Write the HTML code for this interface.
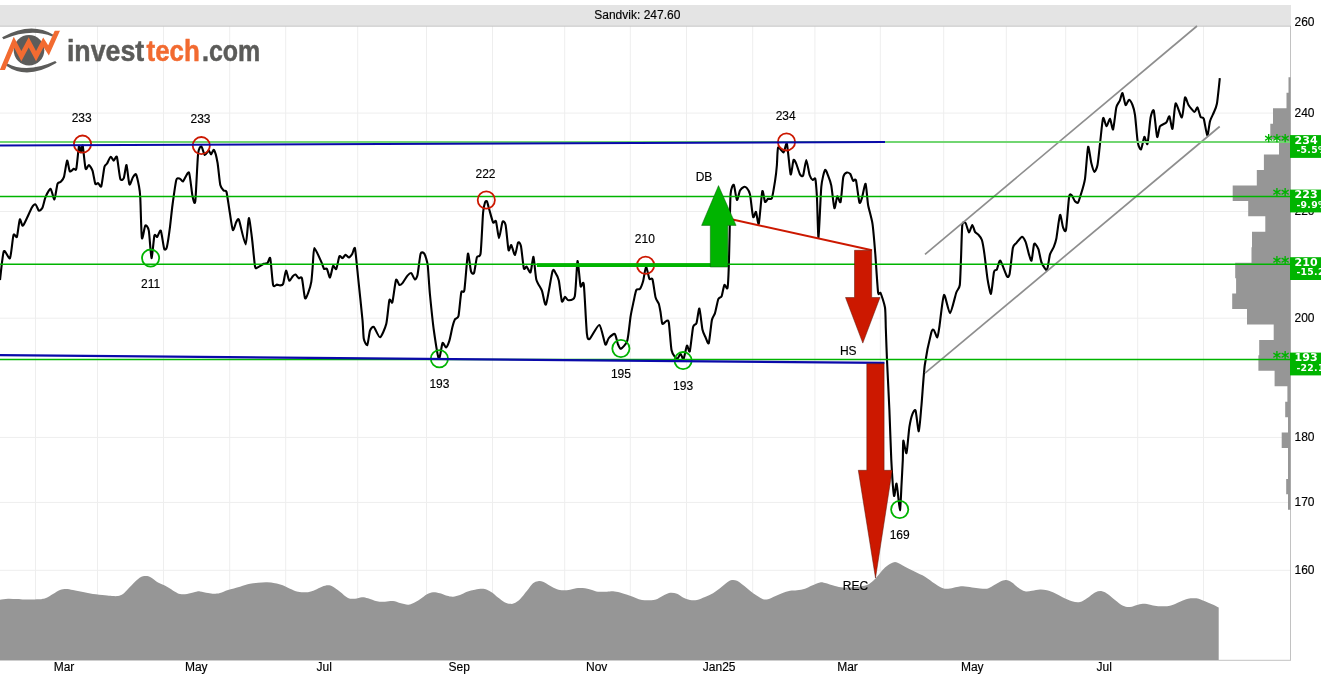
<!DOCTYPE html>
<html><head><meta charset="utf-8"><title>Sandvik: 247.60</title>
<style>html,body{margin:0;padding:0;background:#fff;overflow:hidden}svg{display:block;will-change:transform}</style>
</head><body>
<svg width="1321" height="680" viewBox="0 0 1321 680">
<rect x="0" y="0" width="1321" height="680" fill="#fff"/>
<line x1="35.5" y1="26" x2="35.5" y2="660" stroke="#eeeeee" stroke-width="1"/>
<line x1="97.5" y1="26" x2="97.5" y2="660" stroke="#eeeeee" stroke-width="1"/>
<line x1="163.5" y1="26" x2="163.5" y2="660" stroke="#eeeeee" stroke-width="1"/>
<line x1="229.7" y1="26" x2="229.7" y2="660" stroke="#eeeeee" stroke-width="1"/>
<line x1="285.7" y1="26" x2="285.7" y2="660" stroke="#eeeeee" stroke-width="1"/>
<line x1="357.7" y1="26" x2="357.7" y2="660" stroke="#eeeeee" stroke-width="1"/>
<line x1="426.5" y1="26" x2="426.5" y2="660" stroke="#eeeeee" stroke-width="1"/>
<line x1="492.5" y1="26" x2="492.5" y2="660" stroke="#eeeeee" stroke-width="1"/>
<line x1="564.7" y1="26" x2="564.7" y2="660" stroke="#eeeeee" stroke-width="1"/>
<line x1="630.3" y1="26" x2="630.3" y2="660" stroke="#eeeeee" stroke-width="1"/>
<line x1="686.5" y1="26" x2="686.5" y2="660" stroke="#eeeeee" stroke-width="1"/>
<line x1="752.7" y1="26" x2="752.7" y2="660" stroke="#eeeeee" stroke-width="1"/>
<line x1="814.9" y1="26" x2="814.9" y2="660" stroke="#eeeeee" stroke-width="1"/>
<line x1="880.3" y1="26" x2="880.3" y2="660" stroke="#eeeeee" stroke-width="1"/>
<line x1="943.7" y1="26" x2="943.7" y2="660" stroke="#eeeeee" stroke-width="1"/>
<line x1="1006.3" y1="26" x2="1006.3" y2="660" stroke="#eeeeee" stroke-width="1"/>
<line x1="1065.7" y1="26" x2="1065.7" y2="660" stroke="#eeeeee" stroke-width="1"/>
<line x1="1137.7" y1="26" x2="1137.7" y2="660" stroke="#eeeeee" stroke-width="1"/>
<line x1="1203.5" y1="26" x2="1203.5" y2="660" stroke="#eeeeee" stroke-width="1"/>
<line x1="0" y1="113.1" x2="1290" y2="113.1" stroke="#eeeeee" stroke-width="1"/>
<line x1="0" y1="211.5" x2="1290" y2="211.5" stroke="#eeeeee" stroke-width="1"/>
<line x1="0" y1="318.2" x2="1290" y2="318.2" stroke="#eeeeee" stroke-width="1"/>
<line x1="0" y1="437.4" x2="1290" y2="437.4" stroke="#eeeeee" stroke-width="1"/>
<line x1="0" y1="502.4" x2="1290" y2="502.4" stroke="#eeeeee" stroke-width="1"/>
<line x1="0" y1="570.3" x2="1290" y2="570.3" stroke="#eeeeee" stroke-width="1"/>
<rect x="0" y="5" width="1291" height="21" fill="#e4e4e4"/>
<line x1="0" y1="26.2" x2="1291" y2="26.2" stroke="#c6c6c6" stroke-width="1"/>
<text x="637.3" y="19.2" font-size="12" text-anchor="middle" font-family="Liberation Sans, Arial, sans-serif" fill="#000" stroke="#000" stroke-width="0.15">Sandvik: 247.60</text>
<line x1="1290.5" y1="26" x2="1290.5" y2="660" stroke="#c2c2c2" stroke-width="1"/>
<line x1="0" y1="660.3" x2="1291" y2="660.3" stroke="#c2c2c2" stroke-width="1"/>
<path d="M0,660 L0.0,599.7 C1.3,599.5 5.2,598.8 8.0,598.7 C10.8,598.6 14.2,598.9 17.0,599.0 C19.8,599.1 21.2,599.5 25.0,599.5 C28.8,599.5 36.5,599.5 40.0,599.3 C43.5,599.0 43.8,598.9 46.0,598.0 C48.2,597.1 50.7,595.3 53.0,594.0 C55.3,592.7 57.8,590.8 60.0,590.0 C62.2,589.2 63.8,589.0 66.0,589.0 C68.2,589.0 70.2,589.5 73.0,590.0 C75.8,590.5 79.7,591.3 83.0,592.0 C86.3,592.7 89.3,593.5 93.0,594.0 C96.7,594.5 101.8,595.0 105.0,595.3 C108.2,595.6 109.8,595.9 112.0,596.0 C114.2,596.1 116.2,596.3 118.0,596.0 C119.8,595.7 121.3,595.2 123.0,594.0 C124.7,592.8 126.0,591.0 128.0,589.0 C130.0,587.0 132.8,583.7 135.0,581.7 C137.2,579.7 139.2,578.0 141.0,577.0 C142.8,576.0 144.3,575.9 146.0,576.0 C147.7,576.1 149.0,576.4 151.0,577.5 C153.0,578.6 155.3,581.0 158.0,582.5 C160.7,584.0 164.2,585.2 167.0,586.7 C169.8,588.2 172.8,590.5 175.0,591.7 C177.2,592.9 178.0,593.6 180.0,594.0 C182.0,594.4 184.5,594.3 187.0,594.0 C189.5,593.7 192.8,592.4 195.0,592.0 C197.2,591.6 197.8,591.2 200.0,591.4 C202.2,591.6 205.7,592.6 208.0,593.0 C210.3,593.4 212.0,593.8 214.0,593.8 C216.0,593.8 217.7,593.6 220.0,593.0 C222.3,592.4 224.7,591.0 228.0,590.0 C231.3,589.0 236.3,587.7 240.0,586.7 C243.7,585.7 247.0,584.4 250.0,583.8 C253.0,583.1 255.2,583.0 258.0,582.8 C260.8,582.5 264.2,582.2 267.0,582.3 C269.8,582.4 272.5,582.8 275.0,583.3 C277.5,583.8 279.5,584.1 282.0,585.0 C284.5,585.9 287.3,587.6 290.0,588.7 C292.7,589.8 295.0,591.1 298.0,591.7 C301.0,592.3 305.2,592.5 308.0,592.2 C310.8,591.9 312.7,590.9 315.0,590.0 C317.3,589.1 319.8,587.5 322.0,586.7 C324.2,585.9 326.2,585.3 328.0,585.3 C329.8,585.3 331.0,585.6 333.0,586.7 C335.0,587.8 337.5,589.8 340.0,591.7 C342.5,593.6 345.5,596.8 348.0,598.0 C350.5,599.2 352.7,598.8 355.0,598.7 C357.3,598.6 359.8,597.3 362.0,597.2 C364.2,597.1 365.5,597.6 368.0,598.3 C370.5,599.0 374.2,600.7 377.0,601.3 C379.8,601.9 382.3,601.8 385.0,601.7 C387.7,601.7 390.5,600.8 393.0,601.0 C395.5,601.2 397.5,602.4 400.0,603.0 C402.5,603.6 405.8,604.7 408.0,604.7 C410.2,604.8 411.0,604.2 413.0,603.3 C415.0,602.4 417.7,600.7 420.0,599.2 C422.3,597.7 424.8,595.4 427.0,594.2 C429.2,593.0 430.8,592.4 433.0,592.2 C435.2,592.1 437.7,592.7 440.0,593.3 C442.3,593.9 444.8,595.2 447.0,595.8 C449.2,596.4 450.8,596.8 453.0,596.7 C455.2,596.6 457.7,595.8 460.0,595.0 C462.3,594.2 464.5,592.6 467.0,591.7 C469.5,590.8 472.5,590.2 475.0,589.7 C477.5,589.2 480.0,588.8 482.0,588.8 C484.0,588.8 485.3,589.1 487.0,589.7 C488.7,590.3 490.2,591.2 492.0,592.5 C493.8,593.8 495.8,595.8 498.0,597.5 C500.2,599.2 503.0,601.5 505.0,602.5 C507.0,603.5 508.5,603.7 510.0,603.8 C511.5,603.9 512.3,604.1 514.0,603.3 C515.7,602.5 517.8,601.3 520.0,599.2 C522.2,597.1 524.8,593.4 527.0,590.8 C529.2,588.1 531.2,584.9 533.0,583.3 C534.8,581.7 536.3,581.5 538.0,581.2 C539.7,580.9 541.0,580.9 543.0,581.7 C545.0,582.5 547.7,584.5 550.0,585.8 C552.3,587.0 554.8,588.5 557.0,589.2 C559.2,590.0 560.8,590.2 563.0,590.3 C565.2,590.4 567.5,590.1 570.0,589.7 C572.5,589.3 575.5,588.2 578.0,588.0 C580.5,587.8 582.7,588.0 585.0,588.3 C587.3,588.6 589.8,589.4 592.0,590.0 C594.2,590.6 595.5,591.4 598.0,591.7 C600.5,592.0 604.5,591.8 607.0,591.7 C609.5,591.6 610.8,591.2 613.0,591.3 C615.2,591.4 617.2,591.8 620.0,592.5 C622.8,593.2 626.3,594.5 630.0,595.8 C633.7,597.0 637.8,599.4 642.0,600.0 C646.2,600.6 651.5,600.4 655.0,599.7 C658.5,599.0 660.5,596.9 663.0,595.8 C665.5,594.6 667.7,593.1 670.0,592.8 C672.3,592.5 674.8,593.0 677.0,593.8 C679.2,594.6 680.8,596.5 683.0,597.5 C685.2,598.5 687.7,599.6 690.0,600.0 C692.3,600.4 694.5,600.5 697.0,600.0 C699.5,599.5 702.3,598.1 705.0,597.0 C707.7,595.9 710.5,594.8 713.0,593.3 C715.5,591.8 717.7,590.1 720.0,588.3 C722.3,586.5 725.0,583.9 727.0,582.5 C729.0,581.1 730.3,580.3 732.0,580.0 C733.7,579.7 735.2,580.0 737.0,580.8 C738.8,581.6 740.8,583.3 743.0,585.0 C745.2,586.7 747.7,589.0 750.0,590.8 C752.3,592.6 754.8,594.4 757.0,595.8 C759.2,597.2 761.2,598.6 763.0,599.2 C764.8,599.8 766.0,599.7 768.0,599.2 C770.0,598.7 772.7,597.3 775.0,596.3 C777.3,595.3 779.5,594.2 782.0,593.3 C784.5,592.4 787.5,591.3 790.0,590.8 C792.5,590.3 794.5,590.6 797.0,590.3 C799.5,590.0 802.5,589.6 805.0,588.8 C807.5,588.0 809.5,586.5 812.0,585.5 C814.5,584.5 817.8,582.9 820.0,582.5 C822.2,582.1 822.5,582.4 825.0,583.0 C827.5,583.6 832.0,585.2 835.0,586.0 C838.0,586.8 839.7,587.3 843.0,587.5 C846.3,587.7 851.0,587.4 855.0,587.0 C859.0,586.6 863.7,586.3 867.0,585.0 C870.3,583.7 872.0,581.9 875.0,579.0 C878.0,576.1 882.0,570.2 885.0,567.5 C888.0,564.8 891.0,563.3 893.0,562.5 C895.0,561.7 895.0,561.8 897.0,562.5 C899.0,563.2 902.0,565.2 905.0,566.7 C908.0,568.2 911.7,570.0 915.0,571.7 C918.3,573.4 921.7,574.7 925.0,576.7 C928.3,578.7 932.0,581.8 935.0,583.7 C938.0,585.6 940.5,587.5 943.0,588.3 C945.5,589.1 947.7,588.7 950.0,588.5 C952.3,588.3 954.8,587.4 957.0,587.0 C959.2,586.6 960.5,586.2 963.0,586.3 C965.5,586.4 969.2,587.1 972.0,587.5 C974.8,587.9 977.5,588.2 980.0,588.4 C982.5,588.6 984.8,589.1 987.0,588.7 C989.2,588.3 990.8,587.0 993.0,585.8 C995.2,584.6 997.8,582.7 1000.0,581.7 C1002.2,580.7 1004.0,579.9 1006.0,580.0 C1008.0,580.1 1010.0,581.2 1012.0,582.5 C1014.0,583.8 1015.8,586.0 1018.0,587.5 C1020.2,589.0 1022.7,590.8 1025.0,591.3 C1027.3,591.8 1029.5,591.1 1032.0,590.8 C1034.5,590.5 1037.5,589.6 1040.0,589.5 C1042.5,589.4 1044.5,589.7 1047.0,590.3 C1049.5,590.9 1052.3,592.1 1055.0,593.3 C1057.7,594.5 1060.2,596.2 1063.0,597.5 C1065.8,598.8 1069.2,600.5 1072.0,601.3 C1074.8,602.0 1077.5,602.5 1080.0,602.0 C1082.5,601.5 1084.5,599.9 1087.0,598.3 C1089.5,596.7 1092.5,593.7 1095.0,592.5 C1097.5,591.3 1099.8,590.9 1102.0,591.2 C1104.2,591.5 1105.8,592.7 1108.0,594.2 C1110.2,595.7 1112.5,598.1 1115.0,600.0 C1117.5,601.9 1120.5,604.6 1123.0,605.8 C1125.5,607.0 1127.5,607.2 1130.0,607.0 C1132.5,606.8 1135.5,605.2 1138.0,604.7 C1140.5,604.2 1142.5,603.7 1145.0,603.8 C1147.5,603.9 1150.5,605.1 1153.0,605.5 C1155.5,605.9 1157.2,606.2 1160.0,606.3 C1162.8,606.3 1166.7,606.6 1170.0,605.8 C1173.3,605.0 1177.0,602.9 1180.0,601.7 C1183.0,600.5 1185.5,599.4 1188.0,598.8 C1190.5,598.2 1193.0,598.2 1195.0,598.3 C1197.0,598.4 1198.3,598.7 1200.0,599.2 C1201.7,599.7 1203.0,600.5 1205.0,601.3 C1207.0,602.1 1209.7,603.2 1212.0,604.2 C1214.3,605.2 1217.6,607.0 1218.7,607.5 L1218.7,660 Z" fill="#969696"/>
<path d="M1290.6,77.35 L1288.5,77.35 L1288.5,92.79 L1286.5,92.79 L1286.5,108.24 L1273.0,108.24 L1273.0,123.69 L1270.3,123.69 L1270.3,139.13 L1279.0,139.13 L1279.0,154.57 L1263.9,154.57 L1263.9,170.02 L1256.8,170.02 L1256.8,185.46 L1232.7,185.47 L1232.7,200.91 L1248.2,200.91 L1248.2,216.35 L1265.3,216.35 L1265.3,231.80 L1252.0,231.80 L1252.0,247.24 L1251.5,247.25 L1251.5,262.69 L1235.2,262.69 L1235.2,278.13 L1236.1,278.13 L1236.1,293.58 L1232.2,293.58 L1232.2,309.03 L1247.0,309.02 L1247.0,324.47 L1273.7,324.47 L1273.7,339.92 L1259.2,339.91 L1259.2,355.36 L1258.4,355.36 L1258.4,370.81 L1274.6,370.80 L1274.6,386.25 L1287.4,386.25 L1287.4,401.69 L1285.2,401.70 L1285.2,417.14 L1288.0,417.14 L1288.0,432.58 L1281.7,432.59 L1281.7,448.03 L1288.0,448.03 L1288.0,463.47 L1288.0,463.48 L1288.0,478.92 L1286.2,478.92 L1286.2,494.36 L1288.0,494.37 L1288.0,509.81 L1290.6,509.81 Z" fill="#969696"/>
<text x="1294.5" y="26.4" font-size="12" font-family="Liberation Sans, Arial, sans-serif" fill="#000" stroke="#000" stroke-width="0.15">260</text>
<text x="1294.5" y="116.7" font-size="12" font-family="Liberation Sans, Arial, sans-serif" fill="#000" stroke="#000" stroke-width="0.15">240</text>
<text x="1294.5" y="215.1" font-size="12" font-family="Liberation Sans, Arial, sans-serif" fill="#000" stroke="#000" stroke-width="0.15">220</text>
<text x="1294.5" y="321.8" font-size="12" font-family="Liberation Sans, Arial, sans-serif" fill="#000" stroke="#000" stroke-width="0.15">200</text>
<text x="1294.5" y="441.0" font-size="12" font-family="Liberation Sans, Arial, sans-serif" fill="#000" stroke="#000" stroke-width="0.15">180</text>
<text x="1294.5" y="506.0" font-size="12" font-family="Liberation Sans, Arial, sans-serif" fill="#000" stroke="#000" stroke-width="0.15">170</text>
<text x="1294.5" y="573.9" font-size="12" font-family="Liberation Sans, Arial, sans-serif" fill="#000" stroke="#000" stroke-width="0.15">160</text>
<text x="64" y="671.4" font-size="12" text-anchor="middle" font-family="Liberation Sans, Arial, sans-serif" fill="#000" stroke="#000" stroke-width="0.15">Mar</text>
<text x="196.3" y="671.4" font-size="12" text-anchor="middle" font-family="Liberation Sans, Arial, sans-serif" fill="#000" stroke="#000" stroke-width="0.15">May</text>
<text x="324.2" y="671.4" font-size="12" text-anchor="middle" font-family="Liberation Sans, Arial, sans-serif" fill="#000" stroke="#000" stroke-width="0.15">Jul</text>
<text x="459.2" y="671.4" font-size="12" text-anchor="middle" font-family="Liberation Sans, Arial, sans-serif" fill="#000" stroke="#000" stroke-width="0.15">Sep</text>
<text x="596.7" y="671.4" font-size="12" text-anchor="middle" font-family="Liberation Sans, Arial, sans-serif" fill="#000" stroke="#000" stroke-width="0.15">Nov</text>
<text x="719.2" y="671.4" font-size="12" text-anchor="middle" font-family="Liberation Sans, Arial, sans-serif" fill="#000" stroke="#000" stroke-width="0.15">Jan25</text>
<text x="847.5" y="671.4" font-size="12" text-anchor="middle" font-family="Liberation Sans, Arial, sans-serif" fill="#000" stroke="#000" stroke-width="0.15">Mar</text>
<text x="972.3" y="671.4" font-size="12" text-anchor="middle" font-family="Liberation Sans, Arial, sans-serif" fill="#000" stroke="#000" stroke-width="0.15">May</text>
<text x="1104.2" y="671.4" font-size="12" text-anchor="middle" font-family="Liberation Sans, Arial, sans-serif" fill="#000" stroke="#000" stroke-width="0.15">Jul</text>
<path d="M0.0,280.0 C0.4,276.8 2.7,253.7 3.8,251.3 C4.9,248.9 8.9,259.9 10.0,258.1 C11.1,256.3 12.7,237.4 13.5,235.0 C14.3,232.6 16.2,238.6 16.9,236.9 C17.6,235.2 19.1,220.7 19.8,219.4 C20.5,218.1 21.8,226.9 23.1,225.6 C24.4,224.3 30.5,209.9 31.9,207.5 C33.3,205.1 34.8,204.1 35.6,204.4 C36.4,204.7 38.1,210.2 38.8,210.6 C39.5,211.0 41.5,209.6 42.3,208.1 C43.1,206.6 44.7,199.0 45.6,196.9 C46.5,194.8 49.6,188.5 50.6,188.8 C51.6,189.1 53.6,200.0 54.4,199.4 C55.2,198.8 56.8,185.7 57.5,183.8 C58.2,181.9 59.9,182.7 60.6,181.9 C61.3,181.1 63.3,179.3 64.0,176.9 C64.7,174.5 66.5,161.2 67.1,160.6 C67.7,160.0 69.1,170.4 69.8,171.3 C70.5,172.2 73.1,169.1 73.8,168.8 C74.5,168.5 75.7,171.3 76.3,168.8 C76.9,166.3 78.5,147.8 79.0,146.0 C79.5,144.2 80.5,152.5 80.9,152.5 C81.3,152.5 82.2,143.8 82.7,145.6 C83.2,147.4 84.9,166.6 85.6,168.8 C86.3,171.0 88.0,164.8 88.8,165.0 C89.6,165.2 91.8,168.5 92.5,170.6 C93.2,172.7 94.7,182.4 95.3,183.8 C95.9,185.2 97.4,182.8 98.1,183.1 C98.8,183.4 100.6,188.1 101.3,186.3 C102.0,184.5 103.8,169.4 104.4,166.9 C105.0,164.4 106.2,164.9 106.9,163.8 C107.6,162.7 109.8,157.3 110.6,156.9 C111.4,156.5 113.1,160.6 113.8,160.6 C114.5,160.6 116.2,154.9 116.9,156.9 C117.6,158.9 119.5,176.4 120.3,178.8 C121.1,181.2 123.1,179.6 123.8,178.1 C124.5,176.6 125.9,164.3 126.5,165.0 C127.1,165.7 128.7,183.0 129.4,184.4 C130.1,185.8 132.1,178.6 132.8,177.5 C133.5,176.4 135.3,173.4 136.0,174.4 C136.7,175.4 138.5,183.7 139.0,186.3 C139.5,188.9 140.0,192.2 140.3,198.0 C140.6,203.8 141.3,235.0 141.9,238.1 C142.5,241.2 144.5,226.4 145.3,225.6 C146.1,224.8 148.1,227.0 148.8,230.6 C149.5,234.2 150.9,257.5 151.5,258.1 C152.1,258.7 153.8,238.0 154.4,235.6 C155.0,233.2 156.5,237.5 157.2,236.9 C157.9,236.3 160.0,229.3 160.8,230.6 C161.6,231.9 163.5,247.0 164.2,248.8 C164.9,250.6 166.3,249.3 166.9,246.9 C167.5,244.5 169.4,231.6 170.0,226.9 C170.6,222.2 171.8,210.2 172.5,205.0 C173.2,199.8 175.5,182.9 176.3,180.0 C177.1,177.1 179.2,178.7 180.0,178.8 C180.8,178.9 182.1,182.0 183.1,181.3 C184.1,180.6 188.0,170.8 189.0,172.5 C190.0,174.2 191.8,193.1 192.5,196.3 C193.2,199.5 194.7,206.0 195.3,201.3 C195.9,196.6 197.4,159.9 198.1,153.8 C198.8,147.7 200.6,146.2 201.3,146.3 C202.0,146.4 204.0,154.5 204.8,155.0 C205.6,155.5 208.1,150.7 208.8,150.6 C209.5,150.5 210.4,154.5 211.0,154.4 C211.6,154.3 213.3,149.1 214.0,150.0 C214.7,150.9 216.8,158.6 217.5,162.5 C218.2,166.4 219.6,181.9 220.3,185.0 C221.0,188.1 223.1,189.8 223.8,190.6 C224.5,191.4 225.9,189.7 226.5,191.9 C227.1,194.1 228.7,205.8 229.4,210.0 C230.1,214.2 232.0,228.7 232.8,230.0 C233.6,231.3 235.6,223.0 236.3,221.9 C237.0,220.8 238.0,217.5 239.0,220.0 C240.0,222.5 244.5,244.6 245.6,244.4 C246.7,244.2 248.1,218.9 248.8,218.1 C249.5,217.3 251.2,232.1 251.9,237.5 C252.6,242.9 254.4,263.0 255.0,266.3 C255.6,269.6 256.5,267.8 257.5,267.5 C258.5,267.2 262.7,264.3 263.8,263.8 C264.9,263.3 266.8,263.7 267.5,263.1 C268.2,262.5 269.7,256.0 270.3,258.4 C270.9,260.8 272.4,282.1 273.1,285.0 C273.8,287.9 276.1,284.6 276.9,284.6 C277.7,284.6 279.3,285.5 280.0,285.4 C280.7,285.3 282.4,285.6 283.1,284.0 C283.8,282.4 285.3,271.0 286.0,270.6 C286.7,270.2 288.4,280.0 289.2,280.6 C290.0,281.2 292.1,277.0 292.8,276.3 C293.5,275.6 294.9,274.4 295.6,274.6 C296.3,274.8 298.1,277.9 298.8,278.3 C299.5,278.7 301.2,275.9 301.9,278.1 C302.6,280.3 304.3,296.4 305.0,298.1 C305.7,299.8 307.4,294.9 308.1,293.1 C308.8,291.3 310.8,285.0 311.3,281.9 C311.8,278.8 312.5,268.8 312.8,265.0 C313.1,261.2 313.5,248.4 314.4,248.1 C315.3,247.8 320.2,259.6 321.3,261.9 C322.4,264.2 323.4,268.0 324.0,268.8 C324.6,269.6 326.2,267.8 326.9,268.8 C327.6,269.8 329.3,277.8 330.0,277.5 C330.7,277.2 332.4,266.9 333.1,266.0 C333.8,265.1 335.6,270.1 336.3,269.0 C337.0,267.9 338.7,257.5 339.4,256.3 C340.1,255.1 341.8,258.3 342.5,258.1 C343.2,257.9 344.9,254.9 345.6,254.8 C346.3,254.7 348.3,257.6 349.0,257.5 C349.7,257.4 351.6,254.8 352.3,253.8 C353.0,252.8 354.4,245.9 355.0,248.5 C355.6,251.1 357.3,269.6 358.1,277.5 C358.9,285.4 361.9,313.2 362.5,320.0 C363.1,326.8 363.3,336.0 363.8,338.8 C364.3,341.6 366.6,345.9 367.3,345.0 C368.0,344.1 369.3,332.6 370.0,330.6 C370.7,328.6 372.7,326.2 373.8,326.9 C374.9,327.6 378.6,337.6 380.0,337.3 C381.4,337.0 385.3,327.9 386.3,323.8 C387.3,319.7 388.7,302.4 389.4,300.0 C390.1,297.6 391.7,304.5 392.4,302.3 C393.1,300.1 395.2,281.9 396.0,280.0 C396.8,278.1 398.7,284.7 399.4,285.0 C400.1,285.3 401.6,284.1 402.5,283.1 C403.4,282.1 406.5,276.7 407.5,275.6 C408.5,274.5 410.5,272.7 411.3,273.1 C412.1,273.5 414.1,279.2 414.8,279.4 C415.5,279.6 416.9,277.8 417.5,275.0 C418.1,272.2 419.9,256.2 420.6,253.8 C421.3,251.4 423.2,252.6 423.8,253.1 C424.4,253.6 425.6,256.6 426.0,258.0 C426.4,259.4 427.4,261.9 427.8,266.0 C428.2,270.1 429.3,287.9 430.0,295.0 C430.7,302.1 432.8,322.9 433.8,330.0 C434.8,337.1 437.8,357.3 438.8,358.8 C439.8,360.3 441.7,344.4 442.5,343.1 C443.3,341.8 445.2,347.8 446.0,347.5 C446.8,347.2 448.7,342.8 449.4,340.6 C450.1,338.4 451.7,329.9 452.3,327.5 C452.9,325.1 454.3,320.5 455.0,319.2 C455.7,317.9 457.8,319.0 458.5,316.0 C459.2,313.0 460.6,295.1 461.3,292.2 C462.0,289.3 463.7,294.3 464.4,290.0 C465.1,285.7 467.2,255.9 467.9,253.8 C468.6,251.7 470.3,269.2 471.0,271.3 C471.7,273.4 473.3,274.7 474.0,273.1 C474.7,271.5 476.2,259.4 476.9,257.2 C477.6,255.0 479.9,258.3 480.6,253.3 C481.3,248.3 482.6,218.1 483.1,212.5 C483.6,206.9 484.6,203.7 485.0,202.5 C485.4,201.3 486.4,200.5 486.9,201.3 C487.4,202.1 488.7,207.6 489.4,210.0 C490.1,212.4 492.4,221.2 493.1,222.5 C493.8,223.8 495.3,219.6 496.0,221.3 C496.7,223.0 498.3,238.0 499.0,238.1 C499.7,238.2 501.8,223.4 502.5,221.9 C503.2,220.4 504.9,221.9 505.6,225.0 C506.3,228.1 507.9,247.8 508.5,250.0 C509.1,252.2 510.6,244.4 511.3,245.0 C512.0,245.6 514.2,255.3 515.0,255.0 C515.8,254.7 517.4,243.5 518.1,242.5 C518.8,241.5 520.4,243.4 521.0,246.3 C521.6,249.2 523.2,265.9 523.8,268.2 C524.4,270.5 525.9,266.1 526.6,266.6 C527.3,267.1 529.7,273.4 530.5,272.3 C531.3,271.2 532.9,256.1 533.5,256.9 C534.1,257.7 535.4,275.7 536.3,279.4 C537.2,283.1 540.8,287.8 541.9,290.6 C543.0,293.4 544.8,306.5 546.0,304.4 C547.2,302.3 551.4,274.8 552.5,271.3 C553.6,267.8 554.9,272.1 555.6,273.1 C556.3,274.1 558.1,277.5 558.8,280.6 C559.5,283.7 561.2,299.5 561.9,301.3 C562.6,303.1 564.3,297.0 565.0,296.9 C565.7,296.8 567.4,300.4 568.5,300.3 C569.6,300.2 573.8,300.6 574.8,296.2 C575.8,291.8 576.9,262.1 577.5,261.0 C578.1,259.9 579.9,283.7 580.6,286.3 C581.3,288.9 583.1,279.1 583.8,284.4 C584.5,289.7 586.2,327.8 586.9,333.8 C587.6,339.8 588.4,339.8 589.8,338.8 C591.2,337.8 597.7,324.4 599.4,325.0 C601.1,325.6 604.3,342.9 605.3,344.4 C606.3,345.9 607.7,339.3 608.8,338.1 C609.9,336.9 613.8,333.4 614.8,334.0 C615.8,334.6 617.1,342.2 617.8,343.8 C618.5,345.4 619.8,349.2 620.9,348.8 C622.0,348.4 626.2,344.2 627.3,340.6 C628.4,337.0 629.9,320.7 630.6,316.3 C631.3,311.9 633.2,303.5 633.8,300.6 C634.4,297.7 635.6,291.3 636.3,290.0 C637.0,288.7 639.2,289.8 640.0,288.8 C640.8,287.8 642.4,283.7 643.1,281.3 C643.8,278.9 645.3,267.2 646.0,266.9 C646.7,266.6 648.7,277.4 649.4,278.8 C650.1,280.2 651.8,277.3 652.5,279.4 C653.2,281.5 654.9,294.8 655.6,297.5 C656.3,300.2 658.3,302.2 658.8,303.8 C659.3,305.4 660.1,309.8 660.5,312.0 C660.9,314.2 661.7,322.8 662.3,323.8 C662.9,324.8 665.6,321.1 666.3,321.0 C667.0,320.9 668.2,319.3 668.8,322.5 C669.4,325.7 670.8,346.2 671.5,350.0 C672.2,353.8 674.3,355.9 675.0,356.9 C675.7,357.9 676.9,359.1 677.5,358.8 C678.1,358.5 679.9,353.7 680.6,353.8 C681.3,353.9 682.8,360.3 683.5,359.4 C684.2,358.5 686.2,346.5 686.9,345.6 C687.6,344.7 689.1,353.4 689.8,351.3 C690.5,349.2 692.4,330.0 693.1,326.9 C693.8,323.8 695.8,325.1 696.5,323.1 C697.2,321.1 698.7,307.9 699.4,308.6 C700.1,309.3 701.8,326.6 702.5,329.8 C703.2,333.0 704.9,336.0 705.6,337.5 C706.3,339.0 708.1,345.0 708.8,343.1 C709.5,341.2 711.2,323.3 711.9,320.0 C712.6,316.7 714.3,315.4 715.0,313.1 C715.7,310.8 717.6,301.0 718.3,299.1 C719.0,297.2 720.9,297.9 721.6,296.3 C722.3,294.7 723.7,285.9 724.4,285.0 C725.1,284.1 727.0,290.2 727.5,288.1 C728.0,286.0 728.6,272.2 728.8,266.3 C729.0,260.4 729.4,243.1 729.6,235.0 C729.8,226.9 730.1,199.4 730.6,193.8 C731.1,188.2 733.1,184.1 733.8,184.8 C734.5,185.5 736.2,199.4 736.9,200.0 C737.6,200.6 739.2,192.1 740.0,190.6 C740.8,189.1 743.0,187.2 743.8,186.9 C744.6,186.6 746.2,187.3 746.9,188.1 C747.6,188.9 749.3,191.2 750.0,194.4 C750.7,197.6 752.4,215.0 753.1,216.9 C753.8,218.8 755.4,211.1 756.0,211.9 C756.6,212.7 758.1,226.1 758.8,223.8 C759.5,221.5 761.6,193.7 762.3,191.3 C763.0,188.9 764.4,201.1 765.0,201.9 C765.6,202.7 767.3,199.2 768.1,198.8 C768.9,198.4 771.1,200.0 771.9,198.1 C772.7,196.2 774.4,185.0 775.0,181.3 C775.6,177.6 776.6,168.8 776.9,165.0 C777.2,161.2 777.4,148.9 778.1,147.5 C778.8,146.1 782.5,152.9 783.5,152.5 C784.5,152.1 786.1,141.4 786.9,143.8 C787.7,146.2 789.9,172.6 790.6,174.4 C791.3,176.2 792.9,161.2 793.5,160.0 C794.1,158.8 795.6,162.2 796.3,163.8 C797.0,165.4 799.2,173.1 800.0,174.4 C800.8,175.7 802.4,177.2 803.1,175.6 C803.8,174.0 805.6,160.1 806.3,160.0 C807.0,159.9 808.9,172.8 809.6,175.0 C810.3,177.2 812.2,179.6 812.8,180.0 C813.4,180.4 814.8,177.0 815.3,178.8 C815.8,180.6 816.5,189.8 816.9,196.3 C817.3,202.8 818.0,238.5 818.5,237.5 C819.0,236.5 820.6,194.4 821.3,186.9 C822.0,179.4 824.2,171.3 825.0,170.0 C825.8,168.7 827.4,173.9 828.1,175.6 C828.8,177.3 830.6,182.0 831.3,185.6 C832.0,189.2 833.7,206.9 834.4,208.1 C835.1,209.3 836.6,197.0 837.3,196.3 C838.0,195.6 839.9,204.0 840.6,201.9 C841.3,199.8 842.6,180.3 843.3,177.0 C844.0,173.7 846.1,172.9 846.9,172.6 C847.7,172.3 849.6,173.1 850.3,174.0 C851.0,174.9 852.5,180.1 853.1,180.8 C853.7,181.5 855.3,178.0 856.0,180.4 C856.7,182.8 858.7,200.5 859.4,202.5 C860.1,204.5 861.2,200.2 861.9,198.1 C862.6,196.0 864.9,183.0 865.6,183.8 C866.3,184.6 867.3,200.6 868.1,205.0 C868.9,209.4 871.7,218.4 872.5,223.8 C873.3,229.2 874.7,246.4 875.3,254.0 C875.9,261.6 877.5,288.2 878.1,292.5 C878.7,296.8 879.8,291.4 880.6,293.1 C881.4,294.8 884.4,303.6 885.0,307.5 C885.6,311.4 885.6,322.2 885.8,328.0 C886.0,333.8 886.6,350.9 887.0,360.0 C887.4,369.1 888.9,398.9 889.4,410.0 C889.9,421.1 890.8,450.5 891.3,460.0 C891.8,469.5 893.4,493.1 894.0,495.7 C894.6,498.3 895.9,482.2 896.6,483.8 C897.3,485.4 899.4,510.2 899.9,510.3 C900.4,510.4 901.2,490.6 901.5,485.0 C901.8,479.4 902.6,464.9 902.8,460.0 C903.0,455.1 902.9,441.4 903.3,440.6 C903.7,439.8 905.8,454.6 906.5,453.1 C907.2,451.6 908.7,431.3 909.4,426.9 C910.1,422.5 911.8,415.6 912.5,413.8 C913.2,412.0 914.9,408.7 915.6,410.6 C916.3,412.5 918.1,431.9 918.8,431.3 C919.5,430.7 920.8,412.4 921.5,405.0 C922.2,397.6 923.7,373.1 924.8,365.0 C925.9,356.9 930.3,336.4 931.3,332.5 C932.3,328.6 933.1,329.4 933.8,330.0 C934.5,330.6 936.7,337.9 937.3,337.5 C937.9,337.1 938.8,330.7 939.5,326.0 C940.2,321.3 942.8,296.4 944.0,295.0 C945.2,293.6 948.6,313.4 950.0,313.1 C951.4,312.8 955.2,295.6 956.3,292.5 C957.4,289.4 959.3,288.7 959.8,285.0 C960.3,281.3 960.7,265.5 961.0,258.8 C961.3,252.1 961.8,229.0 962.3,225.0 C962.8,221.0 964.9,222.3 965.6,223.1 C966.3,223.9 968.3,232.3 969.0,232.5 C969.7,232.7 971.6,225.1 972.3,225.0 C973.0,224.9 974.4,230.9 975.0,231.9 C975.6,232.9 977.3,233.5 978.1,234.4 C978.9,235.3 981.2,237.8 981.9,240.0 C982.6,242.2 983.8,249.5 984.4,253.8 C985.0,258.1 986.8,274.4 987.5,278.8 C988.2,283.2 990.3,294.6 991.0,293.8 C991.7,293.0 993.3,274.6 994.0,271.9 C994.7,269.2 996.2,270.7 996.9,269.4 C997.6,268.1 999.2,259.8 1000.3,260.6 C1001.4,261.4 1005.9,274.7 1006.9,276.2 C1007.9,277.7 1008.9,277.2 1009.6,274.0 C1010.3,270.8 1012.2,251.2 1012.9,247.8 C1013.6,244.4 1015.3,244.3 1016.3,243.1 C1017.3,241.9 1020.9,237.0 1021.9,236.9 C1022.9,236.8 1024.8,240.0 1025.6,241.9 C1026.4,243.8 1028.1,251.7 1028.8,253.8 C1029.5,255.9 1030.9,261.6 1031.5,260.6 C1032.1,259.6 1033.5,246.2 1034.0,244.4 C1034.5,242.6 1035.1,243.8 1035.6,244.4 C1036.1,245.0 1037.8,247.4 1038.5,249.4 C1039.2,251.4 1040.6,260.2 1041.5,262.5 C1042.4,264.8 1046.0,270.9 1046.9,270.0 C1047.8,269.1 1049.2,257.0 1050.0,254.4 C1050.8,251.8 1053.1,248.6 1053.8,246.9 C1054.5,245.2 1055.6,242.3 1056.3,238.8 C1057.0,235.3 1059.2,216.3 1060.0,215.0 C1060.8,213.7 1062.4,225.9 1063.1,227.5 C1063.8,229.1 1065.3,233.3 1066.0,229.8 C1066.7,226.3 1068.5,200.1 1069.2,196.3 C1069.9,192.5 1071.3,195.0 1071.9,195.6 C1072.5,196.2 1074.3,200.5 1075.0,201.3 C1075.7,202.1 1077.4,203.4 1078.1,202.5 C1078.8,201.6 1080.5,195.7 1081.3,193.1 C1082.1,190.5 1084.2,183.9 1085.0,178.8 C1085.8,173.7 1087.4,148.6 1088.1,146.9 C1088.8,145.2 1090.6,160.3 1091.3,163.1 C1092.0,165.9 1093.7,171.7 1094.4,171.9 C1095.1,172.1 1096.8,168.4 1097.5,165.0 C1098.2,161.6 1099.7,146.2 1100.3,141.0 C1100.9,135.8 1102.4,119.7 1103.1,118.1 C1103.8,116.5 1105.7,126.2 1106.5,126.3 C1107.3,126.4 1109.3,118.5 1110.0,118.8 C1110.7,119.1 1112.4,130.7 1113.1,129.4 C1113.8,128.1 1115.6,110.7 1116.3,107.5 C1117.0,104.3 1119.1,102.2 1119.8,100.6 C1120.5,99.0 1121.9,92.6 1122.5,93.1 C1123.1,93.6 1124.9,104.3 1125.6,105.0 C1126.3,105.7 1128.2,99.8 1129.0,99.8 C1129.8,99.8 1131.8,103.3 1132.5,105.0 C1133.2,106.7 1134.4,110.8 1135.0,115.0 C1135.6,119.2 1137.1,138.7 1137.8,142.5 C1138.5,146.3 1140.3,150.0 1141.0,149.4 C1141.7,148.8 1143.7,137.5 1144.4,136.9 C1145.1,136.3 1146.8,146.0 1147.5,143.8 C1148.2,141.6 1149.9,121.2 1150.6,117.5 C1151.3,113.8 1153.1,108.4 1153.8,110.6 C1154.5,112.8 1156.4,135.2 1157.1,136.9 C1157.8,138.6 1159.0,127.9 1160.0,126.3 C1161.0,124.7 1165.3,123.6 1166.3,122.5 C1167.3,121.4 1168.7,115.6 1169.4,116.3 C1170.1,117.0 1171.8,130.2 1172.5,128.8 C1173.2,127.4 1174.6,104.8 1175.6,103.5 C1176.6,102.2 1180.9,118.2 1181.9,117.5 C1182.9,116.8 1184.3,98.9 1185.0,97.5 C1185.7,96.1 1187.5,103.4 1188.5,105.0 C1189.5,106.6 1193.4,111.6 1194.4,111.9 C1195.4,112.2 1196.8,106.9 1197.5,107.5 C1198.2,108.1 1199.9,115.6 1200.6,116.9 C1201.3,118.2 1203.1,116.7 1203.8,118.8 C1204.5,120.9 1206.6,135.3 1207.3,135.6 C1208.0,135.9 1209.3,123.9 1210.0,121.3 C1210.7,118.7 1213.0,114.4 1213.8,112.5 C1214.6,110.6 1216.2,107.6 1216.9,103.8 C1217.6,100.0 1219.5,81.0 1219.8,78.1" fill="none" stroke="#000" stroke-width="2.1" stroke-linejoin="round" stroke-linecap="butt"/>
<line x1="925" y1="254.4" x2="1197" y2="26" stroke="#8e8e8e" stroke-width="1.7"/>
<line x1="925" y1="373.2" x2="1219.7" y2="126.5" stroke="#8e8e8e" stroke-width="1.7"/>
<line x1="0" y1="142" x2="1290" y2="142" stroke="#72d672" stroke-width="2"/>
<line x1="0" y1="196.5" x2="1290" y2="196.5" stroke="#00b400" stroke-width="1.5"/>
<line x1="0" y1="264.2" x2="1290" y2="264.2" stroke="#00b400" stroke-width="1.5"/>
<line x1="0" y1="359.5" x2="1290" y2="359.5" stroke="#00b400" stroke-width="1.5"/>
<circle cx="82.5" cy="144.1" r="8.6" fill="none" stroke="#cc1800" stroke-width="1.8"/>
<circle cx="201.3" cy="145.6" r="8.6" fill="none" stroke="#cc1800" stroke-width="1.8"/>
<circle cx="486.3" cy="200" r="8.6" fill="none" stroke="#cc1800" stroke-width="1.8"/>
<circle cx="645.6" cy="265.3" r="8.6" fill="none" stroke="#cc1800" stroke-width="1.8"/>
<circle cx="786.5" cy="141.9" r="8.6" fill="none" stroke="#cc1800" stroke-width="1.8"/>
<circle cx="150.6" cy="258.1" r="8.6" fill="none" stroke="#00b400" stroke-width="1.8"/>
<circle cx="439.4" cy="358.8" r="8.6" fill="none" stroke="#00b400" stroke-width="1.8"/>
<circle cx="620.9" cy="348.5" r="8.6" fill="none" stroke="#00b400" stroke-width="1.8"/>
<circle cx="683.1" cy="360.6" r="8.6" fill="none" stroke="#00b400" stroke-width="1.8"/>
<circle cx="899.7" cy="509.5" r="8.6" fill="none" stroke="#00b400" stroke-width="1.8"/>
<line x1="0" y1="145.5" x2="885" y2="142" stroke="#0a0aaa" stroke-width="2.1"/>
<line x1="0" y1="355.1" x2="884.5" y2="362.9" stroke="#0a0aaa" stroke-width="2.2"/>
<line x1="732.5" y1="219.5" x2="872" y2="250.3" stroke="#cc1800" stroke-width="1.9"/>
<rect x="536.9" y="263.2" width="191" height="3.8" fill="#00b400"/>
<polygon points="718.5,185.6 736.1,225.4 727.8,225.4 727.8,267 710.3,267 710.3,225.4 701.6,225.4" fill="#00b400" stroke="#0a5a0a" stroke-width="0.5"/>
<polygon points="854.5,250.3 871.7,250.3 871.7,297.5 880,297.5 862.8,343.1 845.5,297.5 854.5,297.5" fill="#cc1800" stroke="#5a1408" stroke-width="0.5"/>
<polygon points="866.8,363.7 884.1,363.7 884.1,470.3 892.2,470.3 875.5,578 858.3,470.3 866.8,470.3" fill="#cc1800" stroke="#5a1408" stroke-width="0.5"/>
<text x="81.7" y="122.4" font-size="12" text-anchor="middle" font-family="Liberation Sans, Arial, sans-serif" fill="#000" stroke="#000" stroke-width="0.15">233</text>
<text x="200.5" y="122.9" font-size="12" text-anchor="middle" font-family="Liberation Sans, Arial, sans-serif" fill="#000" stroke="#000" stroke-width="0.15">233</text>
<text x="485.5" y="178.3" font-size="12" text-anchor="middle" font-family="Liberation Sans, Arial, sans-serif" fill="#000" stroke="#000" stroke-width="0.15">222</text>
<text x="644.8000000000001" y="242.7" font-size="12" text-anchor="middle" font-family="Liberation Sans, Arial, sans-serif" fill="#000" stroke="#000" stroke-width="0.15">210</text>
<text x="785.7" y="120.2" font-size="12" text-anchor="middle" font-family="Liberation Sans, Arial, sans-serif" fill="#000" stroke="#000" stroke-width="0.15">234</text>
<text x="150.6" y="287.6" font-size="12" text-anchor="middle" font-family="Liberation Sans, Arial, sans-serif" fill="#000" stroke="#000" stroke-width="0.15">211</text>
<text x="439.4" y="388.3" font-size="12" text-anchor="middle" font-family="Liberation Sans, Arial, sans-serif" fill="#000" stroke="#000" stroke-width="0.15">193</text>
<text x="620.9" y="378.0" font-size="12" text-anchor="middle" font-family="Liberation Sans, Arial, sans-serif" fill="#000" stroke="#000" stroke-width="0.15">195</text>
<text x="683.1" y="390.1" font-size="12" text-anchor="middle" font-family="Liberation Sans, Arial, sans-serif" fill="#000" stroke="#000" stroke-width="0.15">193</text>
<text x="899.7" y="539.0" font-size="12" text-anchor="middle" font-family="Liberation Sans, Arial, sans-serif" fill="#000" stroke="#000" stroke-width="0.15">169</text>
<text x="704" y="181.3" font-size="12" text-anchor="middle" font-family="Liberation Sans, Arial, sans-serif" fill="#000" stroke="#000" stroke-width="0.15">DB</text>
<text x="848.3" y="355.3" font-size="12" text-anchor="middle" font-family="Liberation Sans, Arial, sans-serif" fill="#000" stroke="#000" stroke-width="0.15">HS</text>
<text x="855.5" y="589.8" font-size="12" text-anchor="middle" font-family="Liberation Sans, Arial, sans-serif" fill="#000" stroke="#000" stroke-width="0.15">REC</text>
<rect x="1290" y="135.1" width="31" height="22.8" fill="#00b400"/>
<text x="1294.6" y="143.7" font-size="11" font-family="DejaVu Sans, Verdana, sans-serif" font-weight="bold" fill="#fff">234</text>
<text x="1296.4" y="153.0" font-size="9.3" letter-spacing="0.3" font-family="DejaVu Sans, Verdana, sans-serif" font-weight="bold" fill="#fff">-5.5%</text>
<text transform="translate(1289.4,146.6) scale(0.965,1.09)" x="0" y="0" font-size="16.5" text-anchor="end" font-family="DejaVu Sans, Verdana, sans-serif" font-weight="bold" fill="#00b400">***</text>
<rect x="1290" y="189.6" width="31" height="22.8" fill="#00b400"/>
<text x="1294.6" y="198.2" font-size="11" font-family="DejaVu Sans, Verdana, sans-serif" font-weight="bold" fill="#fff">223</text>
<text x="1296.4" y="207.5" font-size="9.3" letter-spacing="0.3" font-family="DejaVu Sans, Verdana, sans-serif" font-weight="bold" fill="#fff">-9.9%</text>
<text transform="translate(1289.4,201.1) scale(0.965,1.09)" x="0" y="0" font-size="16.5" text-anchor="end" font-family="DejaVu Sans, Verdana, sans-serif" font-weight="bold" fill="#00b400">**</text>
<rect x="1290" y="257.2" width="31" height="22.8" fill="#00b400"/>
<text x="1294.6" y="265.9" font-size="11" font-family="DejaVu Sans, Verdana, sans-serif" font-weight="bold" fill="#fff">210</text>
<text x="1296.4" y="275.2" font-size="9.3" letter-spacing="0.3" font-family="DejaVu Sans, Verdana, sans-serif" font-weight="bold" fill="#fff">-15.2%</text>
<text transform="translate(1289.4,268.8) scale(0.965,1.09)" x="0" y="0" font-size="16.5" text-anchor="end" font-family="DejaVu Sans, Verdana, sans-serif" font-weight="bold" fill="#00b400">**</text>
<rect x="1290" y="352.6" width="31" height="22.8" fill="#00b400"/>
<text x="1294.6" y="361.2" font-size="11" font-family="DejaVu Sans, Verdana, sans-serif" font-weight="bold" fill="#fff">193</text>
<text x="1296.4" y="370.5" font-size="9.3" letter-spacing="0.3" font-family="DejaVu Sans, Verdana, sans-serif" font-weight="bold" fill="#fff">-22.1%</text>
<text transform="translate(1289.4,364.1) scale(0.965,1.09)" x="0" y="0" font-size="16.5" text-anchor="end" font-family="DejaVu Sans, Verdana, sans-serif" font-weight="bold" fill="#00b400">**</text>
<g>
<circle cx="29" cy="50.3" r="15.3" fill="#5c5c5a"/>
<path d="M2.1,37.3 Q31,21.2 53.4,34.8 L52.2,36.4 Q31,27.9 3.5,39.2 Z" fill="#5c5c5a"/>
<path d="M5.9,65.5 Q26.9,80.6 56.7,62.7 L55.2,61.0 Q26.9,73.7 7.3,63.5 Z" fill="#5c5c5a"/>
<clipPath id="zz"><rect x="-2" y="30.8" width="70" height="39.3"/></clipPath>
<polyline clip-path="url(#zz)" points="0.25,75 14,42.35 21.35,56.15 28.7,42.35 36.05,56.15 43.4,42.35 48.5,50.4 59.45,26" fill="none" stroke="#f26b31" stroke-width="4.8" stroke-linejoin="miter" stroke-miterlimit="10"/>
<text x="66.9" y="60.7" font-family="Liberation Sans, Arial, sans-serif" font-weight="bold" font-size="29.5" fill="#5b5b59" stroke="#5b5b59" stroke-width="0.5" textLength="77.3" lengthAdjust="spacingAndGlyphs">invest</text>
<text x="146.5" y="60.7" font-family="Liberation Sans, Arial, sans-serif" font-weight="bold" font-size="29.5" fill="#f26a30" stroke="#f26a30" stroke-width="0.5" textLength="53.3" lengthAdjust="spacingAndGlyphs">tech</text>
<text x="202" y="60.7" font-family="Liberation Sans, Arial, sans-serif" font-weight="bold" font-size="29.5" fill="#5b5b59" stroke="#5b5b59" stroke-width="0.5" textLength="58.3" lengthAdjust="spacingAndGlyphs">.com</text>
</g>
</svg>
</body></html>
